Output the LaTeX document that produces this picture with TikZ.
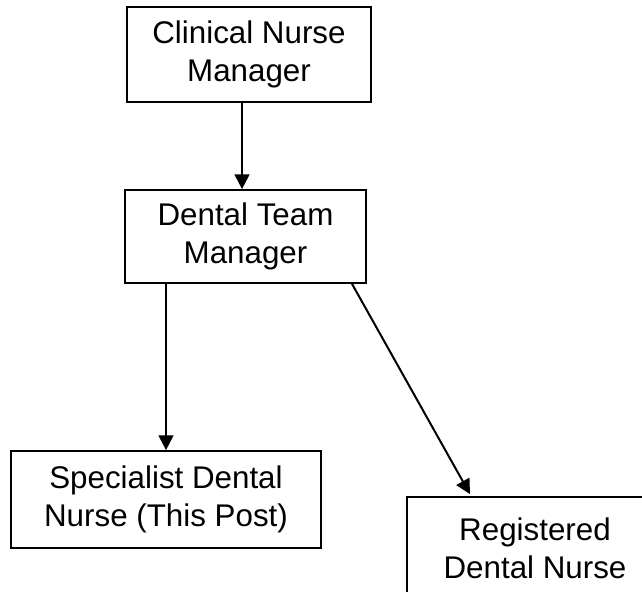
\documentclass[tikz,border=0pt]{standalone}
\usepackage{fontspec}
\setmainfont{Liberation Sans}
\usetikzlibrary{arrows.meta,calc}
\begin{document}
\begin{tikzpicture}[x=0.75pt,y=-0.75pt,
  box/.style={draw=black,line width=1.3pt,align=center,inner sep=0pt,
    font=\fontsize{23.5}{28.5}\selectfont},
  conn/.style={line width=1.5pt,-{Triangle[width=11pt,length=11pt]}}]
\useasboundingbox (0,0) rectangle (642,592);
\node[box,minimum width=244*0.75pt,minimum height=95*0.75pt] (cnm) at (249,54.5) {Clinical Nurse\\Manager};
\node[box,minimum width=241*0.75pt,minimum height=93*0.75pt] (dtm) at (245.5,236.5) {Dental Team\\Manager};
\node[box,minimum width=310*0.75pt,minimum height=97*0.75pt] (sdn) at (166,499.5) {Specialist Dental\\Nurse (This Post)};
\node[box,minimum width=256*0.75pt,minimum height=102*0.75pt] (rdn) at (535,548) {Registered\\Dental Nurse};
\draw[conn] (cnm.south -| 242,0) -- (dtm.north -| 242,0);
\draw[conn] (dtm.south -| 166,0) -- (sdn.north -| 166,0);
\draw[conn] (dtm.south -| 352,0) -- ($(rdn.north -| 470,0)+(0,-2)$);
\end{tikzpicture}
\end{document}
